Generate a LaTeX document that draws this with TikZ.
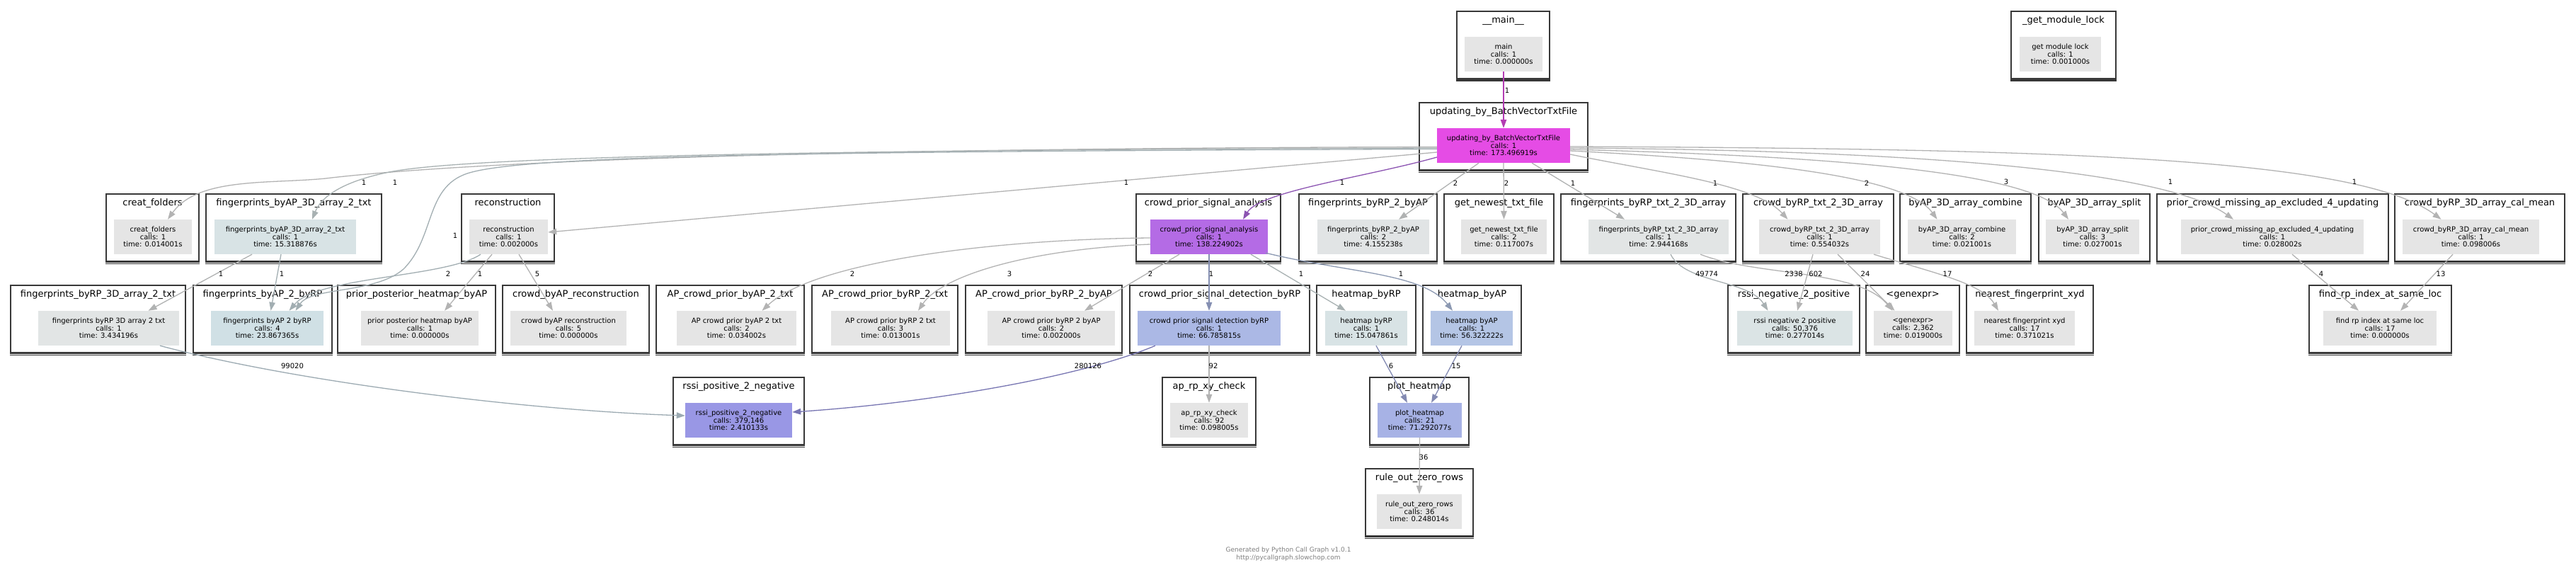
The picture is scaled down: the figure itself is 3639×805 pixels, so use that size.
\documentclass[tikz,border=0pt]{standalone}
\usepackage{fontspec}
\setmainfont{DejaVu Sans}
\usetikzlibrary{arrows.meta,calc}
\definecolor{cb}{HTML}{383838}
\definecolor{ng}{HTML}{E5E5E5}
\definecolor{cU}{HTML}{E54CE5}
\definecolor{cC}{HTML}{B46BE5}
\definecolor{cDet}{HTML}{ABB8E5}
\definecolor{cRpos}{HTML}{9997E5}
\definecolor{cPlot}{HTML}{A7B2E5}
\definecolor{cHAP}{HTML}{B4C5E5}
\definecolor{cAP2RP}{HTML}{D0E0E5}
\definecolor{cAP3D}{HTML}{D8E3E5}
\definecolor{cHRP}{HTML}{D8E3E5}
\definecolor{cRP2AP}{HTML}{E1E4E5}
\definecolor{cRP3D}{HTML}{E2E5E5}
\definecolor{cRPtxt}{HTML}{E2E5E5}
\definecolor{cRneg}{HTML}{DBE4E5}
\definecolor{eg}{HTML}{B3B3B3}
\definecolor{eMag}{HTML}{B33CB3}
\definecolor{ePur}{HTML}{8C54B2}
\definecolor{eBG}{HTML}{A2AEB2}
\definecolor{eBG2}{HTML}{A8B1B2}
\definecolor{eBG3}{HTML}{B0B2B2}
\definecolor{eDet}{HTML}{858FB2}
\definecolor{eHAP}{HTML}{8C99B2}
\definecolor{eRpos}{HTML}{7775B2}
\definecolor{eRpos2}{HTML}{9CAAB2}
\definecolor{ePlot}{HTML}{8289B2}
\definecolor{eRneg}{HTML}{A8B0B2}
\definecolor{foot}{HTML}{7F7F7F}
\newcommand\callnode[9]{%
  \pgfmathsetmacro\cwA{#3-#2}%
  \pgfmathsetmacro\iwA{#5-#4}%
  \node[clus, minimum width=\cwA pt] (#1c) at ({(#2+#3)/2},{#6+47.75}) {};
  \draw[cb, line width=1.6pt] ($(#1c.south west)+(0,1.6)$) -- ($(#1c.south east)+(0,1.6)$);
  \node[ttl] (#1t) at ({(#2+#3)/2},{#6+13}) {#7};
  \node[fn, fill=#9, minimum width=\iwA pt] (#1) at ({(#4+#5)/2},{#6+60.5}) {#8};
}
\begin{document}
\begin{tikzpicture}[x=1pt,y=-1pt,
  clus/.style={rectangle,draw=cb,line width=2.4pt,fill=white,minimum height=95.5pt,inner sep=0pt},
  ttl/.style={font=\fontsize{13}{14}\selectfont,inner sep=0pt,text height=10pt,text depth=3pt},
  fn/.style={rectangle,inner sep=0pt,minimum height=49pt,align=center,font=\fontsize{10}{10.7}\selectfont},
  cedge/.style={line width=1.3pt,draw=eg,-{Triangle[length=12pt,width=8.5pt]}},
  lbl/.style={font=\fontsize{10}{12}\selectfont,inner sep=0pt},
  footer/.style={font=\fontsize{9}{11}\selectfont,text=foot,align=center,inner sep=0pt}
]
\fill[white] (0,0) rectangle (3639,805);
\useasboundingbox (0,0) rectangle (3639,805);

% row 0
\callnode{main}{2058}{2189}{2069}{2179}{16}{\_\_main\_\_}{main\\calls: 1\\time: 0.000000s}{ng}
\callnode{lock}{2841}{2989}{2853}{2968}{16}{\_get\_module\_lock}{get module lock\\calls: 1\\time: 0.001000s}{ng}
% row 1
\callnode{U}{2005}{2243}{2030}{2218}{145}{updating\_by\_BatchVectorTxtFile}{updating\_by\_BatchVectorTxtFile\\calls: 1\\time: 173.496919s}{cU}
% row 2
\callnode{CF}{150}{281}{161}{271}{274}{creat\_folders}{creat\_folders\\calls: 1\\time: 0.014001s}{ng}
\callnode{fpAPtxt}{291}{539}{303}{503}{274}{fingerprints\_byAP\_3D\_array\_2\_txt}{fingerprints\_byAP\_3D\_array\_2\_txt\\calls: 1\\time: 15.318876s}{cAP3D}
\callnode{recon}{652}{783}{663}{774}{274}{reconstruction}{reconstruction\\calls: 1\\time: 0.002000s}{ng}
\callnode{C}{1605}{1809}{1625}{1791}{274}{crowd\_prior\_signal\_analysis}{crowd\_prior\_signal\_analysis\\calls: 1\\time: 138.224902s}{cC}
\callnode{fpRPAP}{1835}{2030}{1861}{2019}{274}{fingerprints\_byRP\_2\_byAP}{fingerprints\_byRP\_2\_byAP\\calls: 2\\time: 4.155238s}{cRP2AP}
\callnode{newest}{2040}{2195}{2064}{2185}{274}{get\_newest\_txt\_file}{get\_newest\_txt\_file\\calls: 2\\time: 0.117007s}{ng}
\callnode{fpRPtxt}{2205}{2452}{2244}{2442}{274}{fingerprints\_byRP\_txt\_2\_3D\_array}{fingerprints\_byRP\_txt\_2\_3D\_array\\calls: 1\\time: 2.944168s}{cRPtxt}
\callnode{crRPtxt}{2462}{2675}{2485}{2656}{274}{crowd\_byRP\_txt\_2\_3D\_array}{crowd\_byRP\_txt\_2\_3D\_array\\calls: 1\\time: 0.554032s}{ng}
\callnode{combine}{2684}{2869}{2695}{2848}{274}{byAP\_3D\_array\_combine}{byAP\_3D\_array\_combine\\calls: 2\\time: 0.021001s}{ng}
\callnode{split}{2880}{3037}{2890}{3022}{274}{byAP\_3D\_array\_split}{byAP\_3D\_array\_split\\calls: 3\\time: 0.027001s}{ng}
\callnode{prior}{3047}{3374}{3081}{3339}{274}{prior\_crowd\_missing\_ap\_excluded\_4\_updating}{prior\_crowd\_missing\_ap\_excluded\_4\_updating\\calls: 1\\time: 0.028002s}{ng}
\callnode{calmean}{3383}{3623}{3394}{3587}{274}{crowd\_byRP\_3D\_array\_cal\_mean}{crowd\_byRP\_3D\_array\_cal\_mean\\calls: 1\\time: 0.098006s}{ng}
% row 3
\callnode{fpRP3D}{15}{262}{54}{253}{403}{fingerprints\_byRP\_3D\_array\_2\_txt}{fingerprints byRP 3D array 2 txt\\calls: 1\\time: 3.434196s}{cRP3D}
\callnode{fpAP2RP}{273}{469}{298}{457}{403}{fingerprints\_byAP\_2\_byRP}{fingerprints byAP 2 byRP\\calls: 4\\time: 23.867365s}{cAP2RP}
\callnode{ppheat}{477}{700}{510}{676}{403}{prior\_posterior\_heatmap\_byAP}{prior posterior heatmap byAP\\calls: 1\\time: 0.000000s}{ng}
\callnode{crAPrec}{710}{917}{721}{885}{403}{crowd\_byAP\_reconstruction}{crowd byAP reconstruction\\calls: 5\\time: 0.000000s}{ng}
\callnode{APAPtxt}{927}{1136}{956}{1125}{403}{AP\_crowd\_prior\_byAP\_2\_txt}{AP crowd prior byAP 2 txt\\calls: 2\\time: 0.034002s}{ng}
\callnode{APRPtxt}{1147}{1353}{1174}{1342}{403}{AP\_crowd\_prior\_byRP\_2\_txt}{AP crowd prior byRP 2 txt\\calls: 3\\time: 0.013001s}{ng}
\callnode{APRPAP}{1364}{1585}{1395}{1575}{403}{AP\_crowd\_prior\_byRP\_2\_byAP}{AP crowd prior byRP 2 byAP\\calls: 2\\time: 0.002000s}{ng}
\callnode{det}{1596}{1850}{1607}{1809}{403}{crowd\_prior\_signal\_detection\_byRP}{crowd prior signal detection byRP\\calls: 1\\time: 66.785815s}{cDet}
\callnode{heatRP}{1860}{2000}{1872}{1988}{403}{heatmap\_byRP}{heatmap byRP\\calls: 1\\time: 15.047861s}{cHRP}
\callnode{heatAP}{2010}{2149}{2021}{2137}{403}{heatmap\_byAP}{heatmap byAP\\calls: 1\\time: 56.322222s}{cHAP}
\callnode{rneg}{2441}{2627}{2454}{2617}{403}{rssi\_negative\_2\_positive}{rssi negative 2 positive\\calls: 50,376\\time: 0.277014s}{cRneg}
\callnode{genexpr}{2636}{2768}{2647}{2758}{403}{\textless genexpr\textgreater}{\textless genexpr\textgreater\\calls: 2,362\\time: 0.019000s}{ng}
\callnode{nearest}{2778}{2957}{2789}{2931}{403}{nearest\_fingerprint\_xyd}{nearest fingerprint xyd\\calls: 17\\time: 0.371021s}{ng}
\callnode{findrp}{3262}{3463}{3282}{3442}{403}{find\_rp\_index\_at\_same\_loc}{find rp index at same loc\\calls: 17\\time: 0.000000s}{ng}
% row 4
\callnode{rpos}{951}{1136}{968}{1119}{533}{rssi\_positive\_2\_negative}{rssi\_positive\_2\_negative\\calls: 379,146\\time: 2.410133s}{cRpos}
\callnode{aprp}{1642}{1774}{1653}{1763}{533}{ap\_rp\_xy\_check}{ap\_rp\_xy\_check\\calls: 92\\time: 0.098005s}{ng}
\callnode{plot}{1935}{2075}{1946}{2065}{533}{plot\_heatmap}{plot\_heatmap\\calls: 21\\time: 71.292077s}{cPlot}
% row 5
\callnode{rule}{1929}{2081}{1945}{2065}{662}{rule\_out\_zero\_rows}{rule\_out\_zero\_rows\\calls: 36\\time: 0.248014s}{ng}

% edges
\draw[cedge,draw=eMag] (main.south) -- (U.north);
\draw[cedge] ($(U.west)+(0,2)$) .. controls (900,210) and (560,240) .. (460,252) .. controls (380,260) and (280,250) .. ($(CF.north)+(21,0)$);
\draw[cedge,draw=eBG2] ($(U.west)+(0,3.5)$) .. controls (1000,212) and (640,225) .. (550,243) .. controls (490,255) and (455,275) .. ($(fpAPtxt.north)+(38,0)$);
\draw[cedge,draw=eBG] ($(U.west)+(0,5)$) .. controls (1050,214) and (730,222) .. (660,245) .. controls (600,265) and (615,335) .. (570,380) .. controls (530,415) and (440,405) .. ($(fpAP2RP.north)+(40,0)$);
\draw[cedge] ($(U.west)+(0,9.5)$) -- ($(recon.east)+(0,-6.5)$);
\draw[cedge,draw=ePur] ($(U.west)+(0,16.5)$) .. controls (1930,250) and (1780,270) .. ($(C.north)+(48,0)$);
\draw[cedge,draw=eBG3] ($(U.south)+(-35,0)$) -- ($(fpRPAP.north)+(36,0)$);
\draw[cedge] (U.south) -- (newest.north);
\draw[cedge,draw=eBG3] ($(U.south)+(40,0)$) -- ($(fpRPtxt.north)+(-48,0)$);
\draw[cedge] ($(U.east)+(0,12.5)$) .. controls (2350,245) and (2480,260) .. ($(crRPtxt.north)+(-45,0)$);
\draw[cedge] ($(U.east)+(0,7.5)$) .. controls (2450,225) and (2690,245) .. ($(combine.north)+(-35,0)$);
\draw[cedge] ($(U.east)+(0,5.5)$) .. controls (2560,220) and (2870,240) .. ($(split.north)+(-34,0)$);
\draw[cedge] ($(U.east)+(0,3.5)$) .. controls (2650,212) and (3050,235) .. ($(prior.north)+(-55,0)$);
\draw[cedge] ($(U.east)+(0,1.5)$) .. controls (2900,210) and (3330,222) .. ($(calmean.north)+(-42,0)$);

\draw[cedge,draw=eBG3] ($(fpAPtxt.south)+(-47,0)$) -- ($(fpRP3D.north)+(56,0)$);
\draw[cedge,draw=eBG] ($(fpAPtxt.south)+(-6,0)$) -- ($(fpAP2RP.north)+(5,0)$);
\draw[cedge,draw=eBG] ($(recon.south)+(-39.5,0)$) .. controls (630,392) and (450,390) .. ($(fpAP2RP.north)+(31,0)$);
\draw[cedge] ($(recon.south)+(-23.5,0)$) -- ($(ppheat.north)+(35,0)$);
\draw[cedge] ($(recon.south)+(14.5,0)$) -- ($(crAPrec.north)+(-22,0)$);
\draw[cedge] ($(C.west)+(0,1.5)$) .. controls (1400,338) and (1150,370) .. ($(APAPtxt.north)+(36,0)$);
\draw[cedge] ($(C.west)+(0,10.5)$) .. controls (1450,352) and (1330,390) .. ($(APRPtxt.north)+(39,0)$);
\draw[cedge] ($(C.south)+(-42,0)$) -- ($(APRPAP.north)+(47,0)$);
\draw[cedge,draw=eDet] (C.south) -- (det.north);
\draw[cedge,draw=eBG2] ($(C.south)+(59,0)$) -- ($(heatRP.north)+(-29,0)$);
\draw[cedge,draw=eHAP] ($(C.south east)+(-3,-2)$) .. controls (1900,385) and (2010,385) .. ($(heatAP.north)+(-27,0)$);
\draw[cedge,draw=eRneg] ($(fpRPtxt.south)+(17,0)$) .. controls (2380,400) and (2470,395) .. ($(rneg.north)+(-38,0)$);
\draw[cedge] ($(fpRPtxt.south)+(59,0)$) .. controls (2480,390) and (2625,380) .. ($(genexpr.north)+(-29,0)$);
\draw[cedge] ($(crRPtxt.south)+(-9.5,0)$) -- ($(rneg.north)+(3.5,0)$);
\draw[cedge] ($(crRPtxt.south)+(25.5,0)$) -- ($(genexpr.north)+(-26,0)$);
\draw[cedge] ($(crRPtxt.south)+(76.5,0)$) .. controls (2730,385) and (2800,400) .. ($(nearest.north)+(-37,0)$);
\draw[cedge] ($(prior.south)+(28,0)$) -- ($(findrp.north)+(-30,0)$);
\draw[cedge] ($(calmean.south)+(-25.5,0)$) -- ($(findrp.north)+(29,0)$);

\draw[cedge,draw=eRpos2] ($(fpRP3D.south)+(72.5,0)$) .. controls (420,540) and (750,580) .. ($(rpos.west)+(0,-6.5)$);
\draw[cedge,draw=eRpos] ($(det.south)+(-76,0)$) .. controls (1520,535) and (1300,570) .. ($(rpos.east)+(0,-11.5)$);
\draw[cedge] (det.south) -- (aprp.north);
\draw[cedge,draw=ePlot] ($(heatRP.south)+(14,0)$) -- ($(plot.north)+(-17.5,0)$);
\draw[cedge,draw=ePlot] ($(heatAP.south)+(-14,0)$) -- ($(plot.north)+(16.5,0)$);
\draw[cedge] (plot.south) -- (rule.north);

% edge labels
\node[lbl] (l38) at (2129,128) {1};
\node[lbl] (l1) at (514,258) {1};
\node[lbl] (l2) at (558,258) {1};
\node[lbl] (l3) at (643,333) {1};
\node[lbl] (l4) at (1591,258) {1};
\node[lbl] (l5) at (1896,258) {1};
\node[lbl] (l6) at (2056,259) {2};
\node[lbl] (l7) at (2128,259) {2};
\node[lbl] (l8) at (2222,259) {1};
\node[lbl] (l9) at (2423,259) {1};
\node[lbl] (l10) at (2637,259) {2};
\node[lbl] (l11) at (2834,257) {3};
\node[lbl] (l12) at (3066,257) {1};
\node[lbl] (l13) at (3326,257) {1};
\node[lbl] (l14) at (312,387) {1};
\node[lbl] (l15) at (398,387) {1};
\node[lbl] (l16) at (633,387) {2};
\node[lbl] (l17) at (678,387) {1};
\node[lbl] (l18) at (759,387) {5};
\node[lbl] (l19) at (1204,387) {2};
\node[lbl] (l20) at (1426,387) {3};
\node[lbl] (l21) at (1625,387) {2};
\node[lbl] (l22) at (1711,387) {1};
\node[lbl] (l23) at (1838,387) {1};
\node[lbl] (l24) at (1979,387) {1};
\node[lbl] (l25) at (2411,387) {49774};
\node[lbl] (l26) at (2534,387) {2338};
\node[lbl] (l27) at (2565,387) {602};
\node[lbl] (l28) at (2635,387) {24};
\node[lbl] (l29) at (2751,387) {17};
\node[lbl] (l30) at (3279,387) {4};
\node[lbl] (l31) at (3448,387) {13};
\node[lbl] (l32) at (413,517) {99020};
\node[lbl] (l33) at (1537,517) {280126};
\node[lbl] (l34) at (1714,517) {92};
\node[lbl] (l35) at (1965,517) {6};
\node[lbl] (l36) at (2057,517) {15};
\node[lbl] (l37) at (2011,646) {36};

\node[footer] (foot) at (1820,783) {Generated by Python Call Graph v1.0.1\\http://pycallgraph.slowchop.com};
\end{tikzpicture}
\end{document}
